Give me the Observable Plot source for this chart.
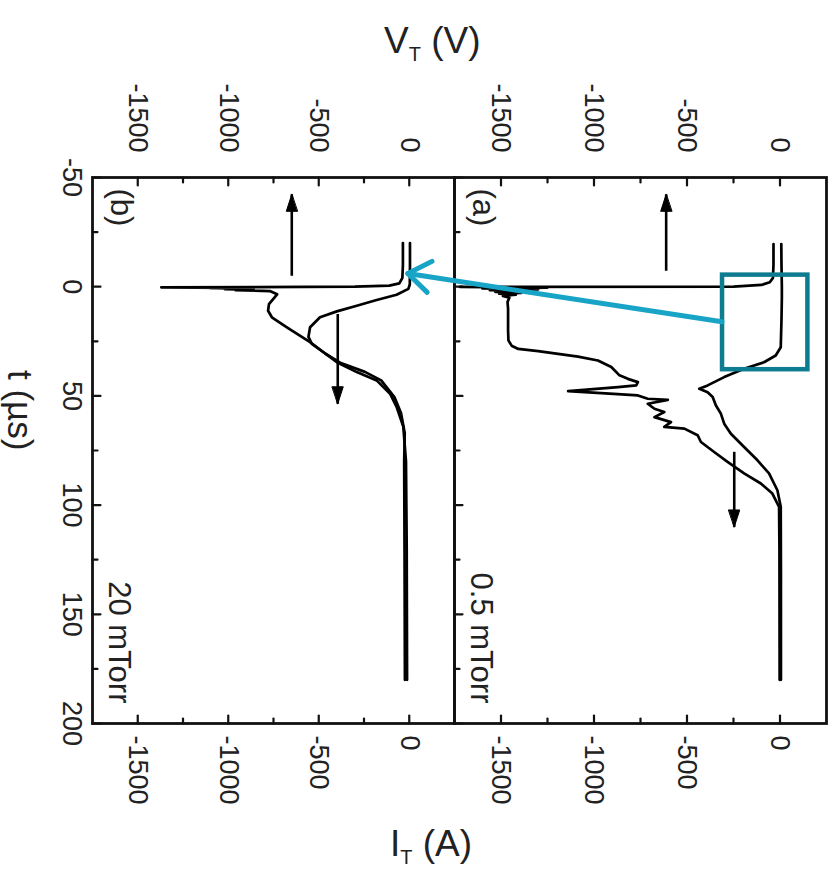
<!DOCTYPE html>
<html><head><meta charset="utf-8">
<script src="https://cdn.jsdelivr.net/npm/d3@7"></script>
<script src="https://cdn.jsdelivr.net/npm/@observablehq/plot@0.6"></script>
<style>
body{margin:0;background:#fff;}
#wrap{position:relative;width:836px;height:886px;font-family:"Liberation Sans",Arial,Helvetica,sans-serif;color:#222;overflow:hidden;}
#wrap > svg{position:absolute;top:0;}
.title{position:absolute;font-size:37px;white-space:nowrap;line-height:1;}
.title sub{font-size:20px;vertical-align:-8px;}
</style></head><body><div id="wrap"></div>
<script>
// ---------- data ----------
const tDomain = [-50, 200];
const valDomain = [-1750, 250];
const valTicks = [-1500, -1000, -500, 0];
const valMinor = [-1250, -750, -250];
const tTicks = [-50, 0, 50, 100, 150, 200];
const tMinor = [-25, 25, 75, 125, 175];

// panel (b) 20 mTorr
const tVoltB = [-20,-10,-4,-1.5,-0.5,0,0.3,0.5,0.7,0.9,1.1,1.3,1.6,2,3.5,5,8,11,14,18.6,25.4,30,34.6,39.1,42.9,49,55,64,80,120,180];
const voltB  = [-35,-35,-38,-55,-110,-300,-1370,-1000,-1100,-860,-1020,-880,-960,-770,-730,-745,-775,-780,-759,-676,-548,-474,-400,-290,-180,-106,-70,-33,-18,-14,-12];
const tCurrB = [-20,-10,-1,1,3.7,6.1,8.7,11.3,14,18.6,23,26.2,30.7,35,39,42.9,50.5,58,67,80,120,180];
const currB  = [4,4,3,-5,-70,-180,-290,-400,-493,-548,-557,-538,-462,-378,-245,-155,-82,-45,-25,-28,-26,-24];

// panel (a) 0.5 mTorr
const tVoltA = [-19.5,-10,-4,-2,-0.8,0,0.1,0.4,0.8,1.2,1.6,2.0,2.4,2.8,3.2,3.6,4.2,5,7,10,20,24.6,27,28.5,29.5,32,33.8,36.8,40.6,42.2,43.7,45.2,46,47.8,48.7,49.8,51.3,51.8,53.6,55.9,57.4,59.7,62,64.2,65,68,71.1,75.7,80.2,85.5,90.1,94.7,100.8,120,180];
const voltA  = [-35,-35,-38,-55,-100,-250,-1720,-1250,-1600,-1300,-1560,-1350,-1530,-1390,-1510,-1420,-1490,-1455,-1465,-1462,-1462,-1460,-1443,-1407,-1300,-1086,-979,-907,-863,-818,-764,-773,-871,-1139,-961,-764,-711,-603,-711,-675,-622,-675,-586,-622,-514,-443,-425,-354,-282,-193,-103,-41,-5,-3,-2];
const tCurrA = [-19.5,-10,0,5,15,27.7,31.5,34.6,37.6,41.4,45.2,46.7,48.3,50.5,54.3,58.1,62.7,67.3,73.4,79.5,85.5,93.2,100.8,130,180];
const currA  = [7,8,10,10,8,4,-23,-86,-193,-300,-389,-434,-389,-362,-345,-318,-300,-264,-193,-121,-59,-14,4,5,5];

// arrows: [value, tStart, tTip]
const arrowsB = [[-649, -5, -42.3], [-395, 12.5, 53.6]];
const arrowsA = [[-612, -7.3, -42.3], [-246, 75.6, 110]];

// highlight annotation
const boxA = {v1: -309, v2: 150, t1: -5.3, t2: 38};
const pointerFromA = {v: -309, t: 16.3};
const pointerToB = {v: -5, t: -5.8};

const panelLabels = {b: ["(b)", "20 mTorr"], a: ["(a)", "0.5 mTorr"]};

// ---------- layout ----------
const H = 886, mTop = 177, mBottom = 163;
const FONT = '"Liberation Sans", Arial, Helvetica, sans-serif';
const INK = "#222";

const zipTV = (ts, vs) => ts.map((t, i) => ({t, v: vs[i]}));
const tickShape = {draw(ctx, l) { ctx.moveTo(0, 0); ctx.lineTo(0, -l); }};
const headShape = {draw(ctx, l) { ctx.moveTo(0, -l); ctx.lineTo(-5.5, -l + 17); ctx.lineTo(5.5, -l + 17); ctx.closePath(); }};

function panel({width, marginLeft, marginRight, volt, curr, arrows, labels, showT, extra = []}) {
  const arr = arrows.map(([v, t0, t1]) => ({v, t0, t1, up: t1 < t0}));
  const tk = {shape: tickShape, strokeWidth: 2.2, stroke: "#111", anchor: "start"};
  const marks = [
    Plot.frame({stroke: "#111", strokeWidth: 2.8}),
    Plot.vector(valTicks, {x: d => d, frameAnchor: "top", rotate: 180, length: 8, ...tk}),
    Plot.vector(valMinor, {x: d => d, frameAnchor: "top", rotate: 180, length: 5, ...tk}),
    Plot.vector(valTicks, {x: d => d, frameAnchor: "bottom", rotate: 0, length: 8, ...tk}),
    Plot.vector(valMinor, {x: d => d, frameAnchor: "bottom", rotate: 0, length: 5, ...tk}),
    Plot.vector(tTicks, {y: d => d, frameAnchor: "left", rotate: 90, length: 8, ...tk}),
    Plot.vector(tMinor, {y: d => d, frameAnchor: "left", rotate: 90, length: 5, ...tk}),
    Plot.axisX({anchor: "top", ticks: valTicks, tickSize: 0, tickRotate: 90, tickPadding: 25, tickFormat: d => String(d), fontSize: 27, fill: INK, label: null}),
    Plot.axisX({anchor: "bottom", ticks: valTicks, tickSize: 0, tickRotate: 90, tickPadding: 12, tickFormat: d => String(d), fontSize: 27, fill: INK, label: null}),
    Plot.line(zipTV(volt[0], volt[1]), {x: "v", y: "t", stroke: "#000", strokeWidth: 2.7, curve: "linear", strokeLinejoin: "round"}),
    Plot.line(zipTV(curr[0], curr[1]), {x: "v", y: "t", stroke: "#000", strokeWidth: 2.7, curve: "linear", strokeLinejoin: "round"}),
    Plot.link(arr, {x1: "v", y1: "t0", x2: "v", y2: "t1", stroke: "#000", strokeWidth: 2.6}),
    Plot.vector(arr, {x: "v", y: "t1", rotate: d => d.up ? 0 : 180, anchor: "end", length: 17, shape: headShape, fill: "#000", stroke: "#000", strokeWidth: 1}),
    Plot.text([labels[0]], {frameAnchor: "top-left", rotate: 90, textAnchor: "start", lineAnchor: "middle", dx: 28, dy: 11, fontSize: 31, fill: INK}),
    Plot.text([labels[1]], {frameAnchor: "bottom-left", rotate: 90, textAnchor: "end", lineAnchor: "middle", dx: 26, dy: -20, fontSize: 31, fill: INK}),
    ...extra
  ];
  if (showT) marks.push(Plot.axisY({anchor: "left", ticks: tTicks, tickSize: 0, tickRotate: 90, tickPadding: 10, tickFormat: d => String(d), fontSize: 27, fill: INK, label: null}));
  return Plot.plot({
    width, height: H, marginTop: mTop, marginBottom: mBottom, marginLeft, marginRight,
    style: {fontFamily: FONT, background: "transparent", overflow: "visible"},
    x: {domain: valDomain},
    y: {domain: tDomain, reverse: true, axis: showT ? undefined : null},
    marks
  });
}

const wrap = document.getElementById("wrap");

const plotB = panel({width: 454, marginLeft: 92, marginRight: 0, volt: [tVoltB, voltB], curr: [tCurrB, currB], arrows: arrowsB, labels: panelLabels.b, showT: true});
plotB.style.left = "0px";
wrap.appendChild(plotB);

const teal = "#0d7c90";
const plotA = panel({width: 382, marginLeft: 0, marginRight: 10, volt: [tVoltA, voltA], curr: [tCurrA, currA], arrows: arrowsA, labels: panelLabels.a, showT: false,
  extra: [Plot.rect([boxA], {x1: "v1", x2: "v2", y1: "t1", y2: "t2", fill: "none", stroke: teal, strokeWidth: 4.5})]});
plotA.style.left = "454px";
wrap.appendChild(plotA);

// pointer arrow across panels (positions from the panel scales)
const ax = plotA.scale("x"), ay = plotA.scale("y"), bx = plotB.scale("x"), by = plotB.scale("y");
const p0 = [454 + ax.apply(pointerFromA.v), ay.apply(pointerFromA.t)];
const p1 = [bx.apply(pointerToB.v), by.apply(pointerToB.t)];
const ang = Math.atan2(p0[1] - p1[1], p0[0] - p1[0]);
const headL = 27, headA = 0.62;
const over = d3.create("svg").attr("width", 836).attr("height", 886).style("position", "absolute").style("left", "0px").style("top", "0px");
const g = over.append("g").attr("stroke", "#18a4c6").attr("stroke-width", 5).attr("stroke-linecap", "round").attr("stroke-linejoin", "round").attr("fill", "none");
g.append("line").attr("x1", p0[0]).attr("y1", p0[1]).attr("x2", p1[0]).attr("y2", p1[1]);
g.append("polyline").attr("points", [
  [p1[0] + headL * Math.cos(ang - headA), p1[1] + headL * Math.sin(ang - headA)],
  p1,
  [p1[0] + headL * Math.cos(ang + headA), p1[1] + headL * Math.sin(ang + headA)]
].map(p => p.join(",")).join(" "));
wrap.appendChild(over.node());

// axis titles
const tv = document.createElement("div");
tv.className = "title"; tv.innerHTML = "V<sub>T</sub> (V)";
tv.style.left = "384px"; tv.style.top = "22px";
wrap.appendChild(tv);
const ti = document.createElement("div");
ti.className = "title"; ti.innerHTML = "I<sub>T</sub> (A)";
ti.style.left = "390px"; ti.style.top = "825px";
wrap.appendChild(ti);
const tt = document.createElement("div");
tt.className = "title"; tt.textContent = "t (µs)"; tt.style.fontSize = "35px";
tt.style.left = "0px"; tt.style.top = "0px";
tt.style.transformOrigin = "0 0";
tt.style.transform = "translate(38px, 370px) rotate(90deg)";
wrap.appendChild(tt);
</script></body></html>
